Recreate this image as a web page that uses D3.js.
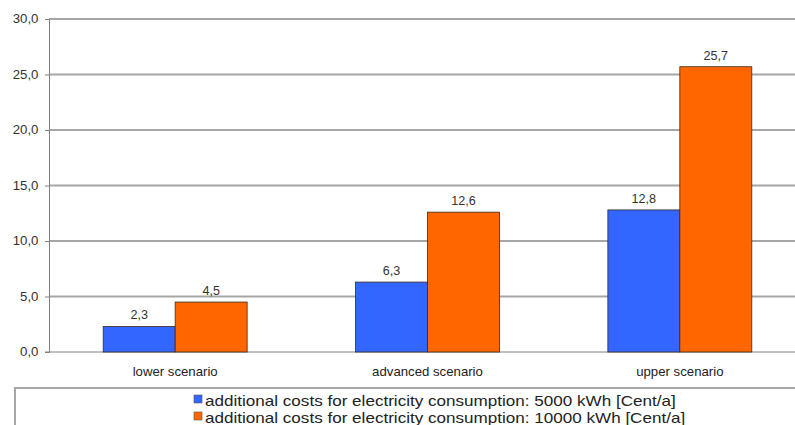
<!DOCTYPE html>
<html>
<head>
<meta charset="utf-8">
<script src="https://cdn.jsdelivr.net/npm/d3@7"></script>
<style>
  html, body { margin: 0; padding: 0; background: #fff; }
  svg { display: block; font-family: Arial, "Liberation Sans", sans-serif; }
</style>
</head>
<body>
<svg id="chart" width="795" height="425"></svg>
<script>
// Scenario categories and cost series (Cent/a)
const categories = ["lower scenario", "advanced scenario", "upper scenario"];
const series5000 = [2.3, 6.3, 12.8];
const series10000 = [4.5, 12.6, 25.7];
const seriesNames = [
  "additional costs for electricity consumption: 5000 kWh [Cent/a]",
  "additional costs for electricity consumption: 10000 kWh [Cent/a]"
];
const seriesColors = ["#3366FF", "#FF6600"];
const yTicks = [0, 5, 10, 15, 20, 25, 30];

const svg = d3.select("#chart");
const margin = { left: 49, top: 19, right: -11, bottom: 73 };
const W = 795, H = 425;
const plotLeft = margin.left, plotRight = W - margin.right;
const plotTop = margin.top, plotBottom = H - margin.bottom;

const fmt = v => d3.format(".1f")(v).replace(".", ",");

// place a text node at (x,y) with a slight horizontal stretch of the glyphs
function placeText(sel, fx, fy, sx) {
  sel.attr("x", 0).attr("y", 0)
    .attr("transform", (d, i) => `translate(${fx(d, i)},${fy(d, i)}) scale(${sx},1)`);
}

const x = d3.scaleBand().domain(categories).range([plotLeft, plotRight]);
const xInner = d3.scaleBand().domain([0, 1])
  .range([0, x.bandwidth()]).paddingInner(0).paddingOuter(0.753);
const y = d3.scaleLinear().domain([0, 30]).range([plotBottom, plotTop]);

// horizontal gridlines
svg.append("g").selectAll("line").data(yTicks.filter(t => t > 0)).join("line")
  .attr("x1", plotLeft).attr("x2", plotRight)
  .attr("y1", d => y(d)).attr("y2", d => y(d))
  .attr("stroke", "#a6a6a6").attr("stroke-width", 2);

// y axis
const yAxis = svg.append("g").attr("transform", `translate(${plotLeft},0)`)
  .call(d3.axisLeft(y).tickValues(yTicks).tickFormat(fmt).tickSize(4).tickPadding(6));
yAxis.select(".domain").attr("stroke", "#808080").attr("stroke-width", 1);
yAxis.selectAll(".tick line").attr("stroke", "#808080");
yAxis.selectAll(".tick text").attr("fill", "#333").attr("font-size", 12)
  .attr("transform", "scale(1.1,1)").attr("x", -10 / 1.1 * 1.0 - 0.5);

// x baseline
svg.append("line").attr("x1", plotLeft - 4).attr("x2", plotRight)
  .attr("y1", plotBottom).attr("y2", plotBottom)
  .attr("stroke", "#808080").attr("stroke-width", 1);

// bars
const rows = categories.map((c, i) => ({ cat: c, vals: [series5000[i], series10000[i]] }));
const groups = svg.append("g").selectAll("g").data(rows).join("g")
  .attr("transform", d => `translate(${x(d.cat)},0)`);

groups.selectAll("rect").data(d => d.vals.map((v, k) => ({ v, k }))).join("rect")
  .attr("x", d => xInner(d.k))
  .attr("width", xInner.bandwidth())
  .attr("y", d => y(d.v))
  .attr("height", d => y(0) - y(d.v))
  .attr("fill", d => seriesColors[d.k])
  .attr("stroke", "#3a2a1a").attr("stroke-width", 0.8);

groups.selectAll("text").data(d => d.vals.map((v, k) => ({ v, k }))).join("text")
  .attr("text-anchor", "middle")
  .attr("font-size", 12).attr("fill", "#333")
  .text(d => fmt(d.v))
  .call(placeText, d => xInner(d.k) + xInner.bandwidth() / 2, d => y(d.v) - 7, 1.05);

// category labels
svg.append("g").selectAll("text").data(categories).join("text")
  .attr("text-anchor", "middle")
  .attr("font-size", 12).attr("fill", "#222")
  .text(d => d)
  .call(placeText, d => x(d) + x.bandwidth() / 2, () => plotBottom + 24, 1.1);

// legend box
svg.append("rect").attr("x", 15).attr("y", 388).attr("width", 800).attr("height", 60)
  .attr("fill", "#fff").attr("stroke", "#a6a6a6").attr("stroke-width", 2);

const legend = svg.append("g").selectAll("g").data(seriesNames).join("g")
  .attr("transform", (d, i) => `translate(194,${402 + i * 17})`);
legend.append("rect").attr("x", 0).attr("y", -7).attr("width", 8).attr("height", 8)
  .attr("fill", (d, i) => seriesColors[i]).attr("stroke", "#555").attr("stroke-width", 0.6);
legend.append("text")
  .attr("font-size", 14).attr("fill", "#222")
  .text(d => d)
  .call(placeText, () => 11, () => 3.5, 1.22);
</script>
</body>
</html>
